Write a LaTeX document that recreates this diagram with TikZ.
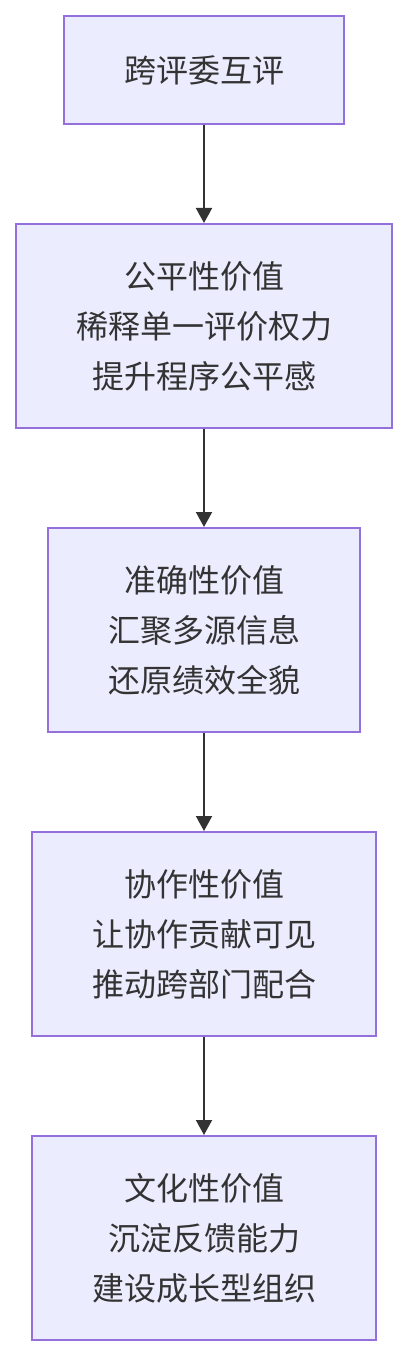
\documentclass[tikz,border=0pt]{standalone}
\usepackage{fontspec}
\newfontfamily\cjk{Noto Sans CJK SC}
\usetikzlibrary{arrows.meta}
\definecolor{boxfill}{HTML}{ECECFF}
\definecolor{boxline}{HTML}{9370DB}
\definecolor{txt}{HTML}{333333}
\tikzset{
  stepbox/.style={draw=boxline, fill=boxfill, line width=2pt, rectangle, align=center,
    text=txt, font=\cjk\fontsize{32}{50}\selectfont, inner sep=0pt},
  conn/.style={draw=txt, line width=2pt, -{Triangle[length=15pt,width=16pt]}}
}
\begin{document}
\begin{tikzpicture}[x=1pt,y=-1pt]
\useasboundingbox (0,0) rectangle (408,1356);
\node[stepbox, minimum width=280pt, minimum height=108pt] (a) at (204,70) {跨评委互评};
\node[stepbox, minimum width=376pt, minimum height=204pt] (b) at (204,326) {公平性价值\\稀释单一评价权力\\提升程序公平感};
\node[stepbox, minimum width=312pt, minimum height=204pt] (c) at (204,630) {准确性价值\\汇聚多源信息\\还原绩效全貌};
\node[stepbox, minimum width=344pt, minimum height=204pt] (d) at (204,934) {协作性价值\\让协作贡献可见\\推动跨部门配合};
\node[stepbox, minimum width=344pt, minimum height=204pt] (e) at (204,1238) {文化性价值\\沉淀反馈能力\\建设成长型组织};
\draw[conn] (a.south) -- (b.north);
\draw[conn] (b.south) -- (c.north);
\draw[conn] (c.south) -- (d.north);
\draw[conn] (d.south) -- (e.north);
\end{tikzpicture}
\end{document}
